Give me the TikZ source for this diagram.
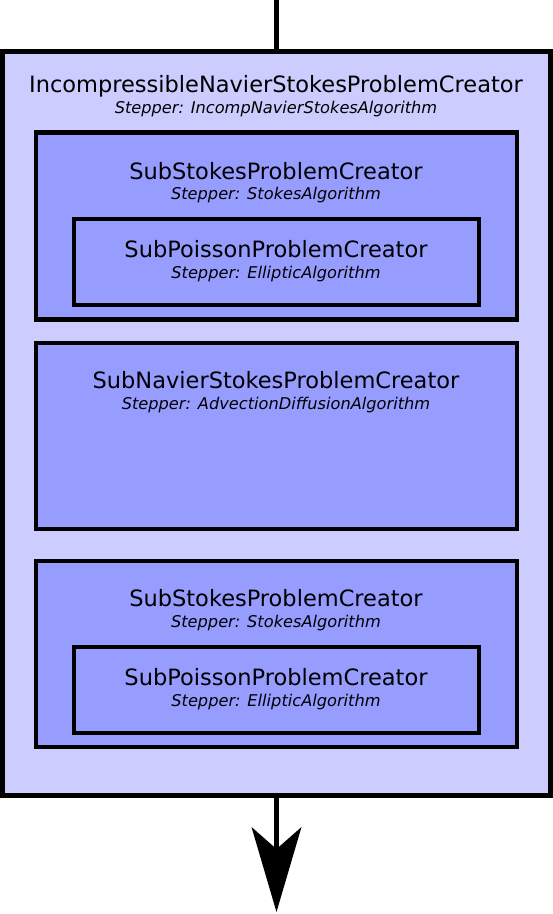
\documentclass[tikz,border=0pt]{standalone}
\usepackage{fontspec}
\setmainfont{DejaVu Sans}
\usetikzlibrary{arrows.meta}
\definecolor{outerfill}{HTML}{CCCCFF}
\definecolor{innerfill}{HTML}{979CFF}
\begin{document}
\begin{tikzpicture}[x=1pt,y=-1pt,
  outerbox/.style={draw=black,line width=5pt,fill=outerfill},
  innerbox/.style={draw=black,line width=4.5pt,fill=innerfill},
  titletext/.style={anchor=base,inner sep=0pt,font=\fontsize{22.5}{24}\selectfont},
  subtext/.style={anchor=base,inner sep=0pt,font=\fontsize{16.2}{18}\selectfont\itshape},
  conn/.style={line width=5pt}]
\useasboundingbox (0,0) rectangle (553,914);
\node[outerbox,minimum width=548pt,minimum height=744pt,inner sep=0pt] (outer) at (276.5,423) {};
\node[innerbox,minimum width=481pt,minimum height=187pt,inner sep=0pt] (b1) at (276.5,226) {};
\node[innerbox,minimum width=405pt,minimum height=86pt,inner sep=0pt] (s1) at (276.5,262) {};
\node[innerbox,minimum width=481pt,minimum height=186pt,inner sep=0pt] (b2) at (276.5,436) {};
\node[innerbox,minimum width=481pt,minimum height=186pt,inner sep=0pt] (b3) at (276.5,654) {};
\node[innerbox,minimum width=405pt,minimum height=86pt,inner sep=0pt] (s3) at (276.5,690) {};
\node[titletext] (t0) at (276,92) {IncompressibleNavierStokesProblemCreator};
\node[subtext] (u0) at (276,113) {Stepper: IncompNavierStokesAlgorithm};
\node[titletext] (t1) at (276,179) {SubStokesProblemCreator};
\node[subtext] (u1) at (276,199) {Stepper: StokesAlgorithm};
\node[titletext] (t2) at (276,257) {SubPoissonProblemCreator};
\node[subtext] (u2) at (276,278) {Stepper: EllipticAlgorithm};
\node[titletext] (t3) at (276,388) {SubNavierStokesProblemCreator};
\node[subtext] (u3) at (276,409) {Stepper: AdvectionDiffusionAlgorithm};
\node[titletext] (t4) at (276,606) {SubStokesProblemCreator};
\node[subtext] (u4) at (276,627) {Stepper: StokesAlgorithm};
\node[titletext] (t5) at (276,685) {SubPoissonProblemCreator};
\node[subtext] (u5) at (276,706) {Stepper: EllipticAlgorithm};
\coordinate (top) at (276.5,0);
\coordinate (bot) at (276.5,912);
\draw[conn] (top) -- (outer.north -| top);
\draw[conn,-{Stealth[length=85pt,width=50pt,inset=22pt,line width=0pt]}] (outer.south -| bot) -- (bot);
\end{tikzpicture}
\end{document}
